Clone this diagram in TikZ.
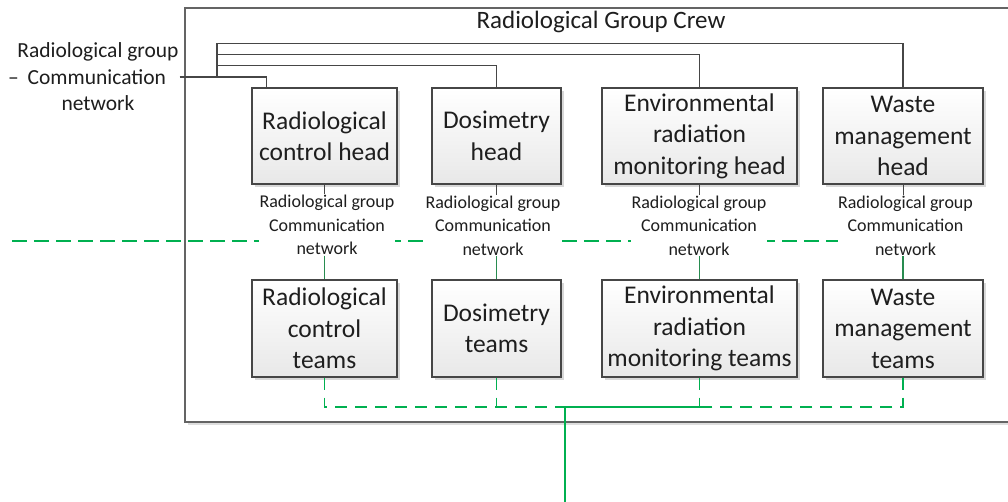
\documentclass[tikz,border=0pt]{standalone}
\usepackage{fontspec}
\setmainfont{Carlito}
\usetikzlibrary{shadows,calc}
\definecolor{gline}{RGB}{0,176,80}
\definecolor{gdark}{RGB}{40,140,80}
\definecolor{boxline}{RGB}{70,70,70}
\definecolor{outerline}{RGB}{100,100,100}
\definecolor{txt}{RGB}{30,30,30}
\begin{document}
\begin{tikzpicture}[x=1pt,y=-1pt,
  hbox/.style={draw=boxline, line width=1.2pt, top color=white, bottom color=black!9,
    align=center, font=\fontsize{25.5}{31.5}\selectfont, text=txt, inner sep=0pt,
    drop shadow={shadow xshift=2.5pt, shadow yshift=-2.5pt, fill=black!30, opacity=0.5}},
  lab/.style={fill=white, align=center, font=\fontsize{18}{23.5}\selectfont, text=txt, inner sep=0.5pt},
  conn/.style={draw=boxline, line width=1.2pt},
  gsolid/.style={draw=gline, line width=1.6pt},
  gtick/.style={draw=gdark, line width=1.4pt},
  gdash/.style={draw=gline, line width=1.6pt, dash pattern=on 12pt off 8pt},
  gdashL/.style={draw=gline, line width=1.6pt, dash pattern=on 15pt off 7pt}]
\clip (0,0) rectangle (1008,501);
\fill[white] (0,0) rectangle (1008,501);
% outer crew box
\fill[black!25, opacity=0.5] (187.5,10.5) rectangle (1030,424.5);
\draw[draw=outerline, line width=1.6pt, fill=white] (185,8) rectangle (1030,422);
\node[font=\fontsize{25}{30}\selectfont, text=txt, inner sep=0pt] (title) at (601,22) {Radiological Group Crew};
% green network line (behind labels)
\coordinate (gL) at (12,241);
\coordinate (gR) at (838,241);
\draw[gdashL] (gL) -- (gR);
% left label
\node[align=center, font=\fontsize{21.5}{26.5}\selectfont, text=txt, inner sep=0.5pt] (lbl) at (98,77)
  {Radiological group\\\makebox[162pt][l]{\hspace{-9pt}–\hspace{9pt}Communication}\\network};
% heads
\node[hbox, minimum width=145pt, minimum height=96pt] (rch) at (324.5,136) {Radiological\\control head};
\node[hbox, minimum width=129pt, minimum height=96pt] (dh) at (496.5,136) {Dosimetry\\head};
\node[hbox, minimum width=195pt, minimum height=96pt] (erh) at (699.5,136) {Environmental\\radiation\\monitoring head};
\node[hbox, minimum width=160pt, minimum height=96pt] (wh) at (903,136) {Waste\\management\\head};
% teams
\node[hbox, minimum width=145pt, minimum height=97pt] (rct) at (324.5,328.5) {Radiological\\control\\teams};
\node[hbox, minimum width=129pt, minimum height=97pt] (dt) at (496.5,328.5) {Dosimetry\\teams};
\node[hbox, minimum width=195pt, minimum height=97pt] (ert) at (699.5,328.5) {Environmental\\radiation\\monitoring teams};
\node[hbox, minimum width=160pt, minimum height=97pt] (wt) at (903,328.5) {Waste\\management\\teams};
% labels
\node[lab] (l1) at (327,225) {Radiological group\\Communication\\network};
\node[lab] (l2) at (493,225.5) {Radiological group\\Communication\\network};
\node[lab] (l3) at (699,225.5) {Radiological group\\Communication\\network};
\node[lab] (l4) at (905.5,225.5) {Radiological group\\Communication\\network};
% top communication network lines
\coordinate (j1) at (217,77);
\coordinate (r1) at ($(rch.north west)+(15,0)$);
\draw[conn] (lbl.east) -| (r1);
\draw[conn] (j1) |- ([yshift=22pt]dh.north) -- (dh.north);
\draw[conn] (j1) |- ([yshift=33pt]erh.north) -- (erh.north);
\draw[conn] (j1) |- ([yshift=44pt]wh.north) -- (wh.north);
% head to label ticks
\foreach \h/\l in {rch/l1, dh/l2, erh/l3, wh/l4}
  \draw[conn, line width=1pt] (\h.south) -- (\h.south |- \l.north);
% label to teams
\foreach \l/\t in {l1/rct, l2/dt, l3/ert, l4/wt}
  \draw[gtick] (\t.north |- \l.south) -- (\t.north);
% bottom network
\coordinate (hub) at (565,407);
\coordinate (trunk) at (565,505);
\draw[gdash] (rct.south) |- (hub);
\draw[gdash] (dt.south) -- (dt.south |- hub);
\draw[gdash] (ert.south) -- (ert.south |- hub);
\draw[gdash] (wt.south) |- (ert.south |- hub);
\draw[gsolid] (hub) -- (ert.south |- hub);
\draw[gsolid] (hub) -- (trunk);
\end{tikzpicture}
\end{document}
